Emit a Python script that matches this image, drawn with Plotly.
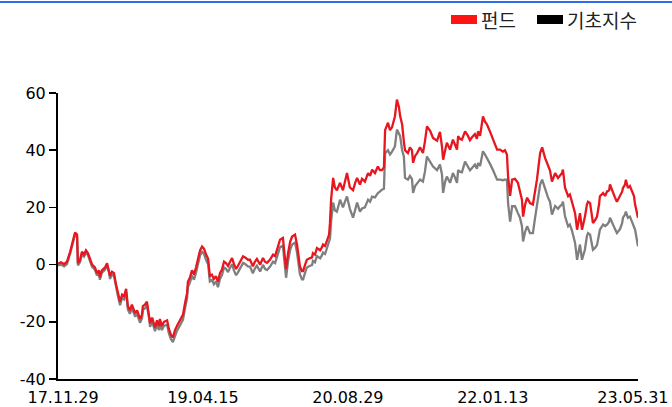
import plotly.graph_objects as go
import pandas as pd

# ---------------- data ----------------
start_date = "2017-11-29"
end_date = "2023-05-31"

# days since start_date for each sampled point
day_offsets = [
    0, 10, 21, 31, 42, 52, 59, 66, 69, 76, 83, 90, 97, 104, 111, 118, 128, 135, 142, 145,
    152, 163, 170, 177, 180, 187, 194, 201, 208, 215, 222, 229, 236, 242, 249, 256, 267, 274, 284, 291,
    294, 301, 308, 315, 319, 326, 329, 336, 343, 350, 353, 360, 367, 378, 384, 391, 398, 405, 412, 423,
    433, 440, 447, 450, 457, 464, 471, 478, 485, 492, 499, 506, 513, 520, 526, 533, 540, 547, 554, 561,
    568, 575, 582, 589, 596, 603, 610, 617, 623, 630, 641, 648, 658, 665, 675, 682, 689, 700, 710, 717,
    724, 734, 745, 752, 759, 769, 779, 786, 790, 797, 804, 811, 821, 828, 831, 838, 845, 849, 856, 862,
    873, 880, 883, 890, 897, 908, 914, 918, 925, 932, 939, 942, 946, 953, 959, 966, 977, 987, 994, 1001,
    1011, 1022, 1029, 1036, 1046, 1053, 1063, 1074, 1081, 1088, 1098, 1108, 1115, 1122, 1129, 1133, 1143, 1150, 1157, 1167,
    1174, 1181, 1185, 1192, 1198, 1202, 1212, 1219, 1226, 1230, 1237, 1244, 1254, 1264, 1271, 1278, 1289, 1299, 1313, 1323,
    1330, 1334, 1341, 1347, 1358, 1368, 1375, 1382, 1386, 1392, 1399, 1410, 1420, 1427, 1434, 1444, 1451, 1455, 1462, 1469,
    1472, 1479, 1486, 1496, 1507, 1514, 1521, 1531, 1541, 1548, 1555, 1559, 1566, 1573, 1583, 1593, 1600, 1607, 1611, 1618,
    1625, 1635, 1645, 1652, 1659, 1670, 1677, 1687, 1697, 1704, 1711, 1722, 1732, 1739, 1746, 1749, 1756, 1767, 1773, 1780,
    1791, 1798, 1805, 1808, 1815, 1822, 1825, 1832, 1836, 1843, 1850, 1853, 1860, 1867, 1874, 1877, 1888, 1895, 1902, 1909,
    1912, 1919, 1922, 1929, 1936, 1947, 1954, 1957, 1964, 1967, 1974, 1981, 1988, 1995, 1999, 2009,
]

# 펀드 (fund) cumulative return, %
fund = [
    0.3, 0.8, 0.2, 1.0, 4.5, 8.5, 11.2, 10.5, 0.5, 1.5, 4.5, 3.5, 5.0, 4.0, 2.0, 0.0, -1.0, -3.0, -2.0, -4.5,
    -2.0, -1.0, 0.5, -2.0, -4.0, -2.5, -3.0, -7.0, -10.0, -13.0, -10.5, -11.0, -8.5, -14.5, -16.0, -14.0, -17.0, -16.0, -19.0, -17.5,
    -14.5, -14.0, -13.0, -17.0, -20.5, -18.5, -19.5, -22.0, -19.5, -21.5, -19.0, -21.5, -20.0, -19.5, -22.5, -24.5, -25.5, -23.0, -21.5, -19.5,
    -17.5, -13.5, -10.0, -6.0, -4.5, -2.0, -3.5, -1.0, 2.0, 5.0, 6.3, 5.5, 3.5, 2.0, -4.0, -3.5, -5.0, -4.0, -6.0, -3.0,
    -1.7, 1.0, 0.5, -0.5, 1.0, 2.3, 0.0, -1.5, -0.5, 1.0, 2.9, 2.5, 1.7, 1.7, -0.6, 1.0, 2.0, 0.0, 2.3, 1.0,
    0.6, 1.7, 3.5, 3.0, 5.2, 8.7, 9.3, 1.7, -1.6, 4.0, 8.0, 9.8, 10.5, 7.0, 4.6, -0.6, -2.3, -2.3, 0.0, 1.7,
    2.3, 2.5, 4.0, 3.5, 5.8, 5.0, 6.0, 7.0, 6.5, 8.7, 10.5, 14.5, 22.7, 30.3, 27.0, 26.0, 28.6, 26.0, 29.0, 32.0,
    27.0, 26.0, 28.5, 30.3, 28.0, 30.0, 29.0, 32.0, 31.0, 33.2, 32.0, 34.3, 33.0, 33.0, 34.0, 47.0, 49.6, 47.0, 48.0, 51.8,
    57.7, 55.0, 52.0, 49.0, 43.0, 40.0, 39.0, 41.0, 40.0, 35.6, 38.0, 39.0, 41.0, 39.0, 43.0, 48.3, 46.8, 44.3, 43.3, 46.4,
    41.3, 36.7, 40.0, 42.6, 40.2, 43.7, 42.0, 40.2, 44.9, 44.0, 43.7, 46.6, 45.0, 43.5, 44.5, 45.6, 44.0, 46.6, 45.0, 49.0,
    51.8, 50.0, 49.0, 46.6, 43.7, 42.0, 40.2, 40.2, 39.5, 40.0, 38.5, 30.8, 24.0, 29.7, 30.0, 28.6, 26.0, 22.7, 16.8, 21.0,
    23.4, 21.5, 21.0, 25.5, 29.7, 39.0, 41.0, 37.3, 34.3, 33.0, 29.0, 32.0, 30.3, 31.0, 32.0, 33.2, 27.0, 23.9, 24.5, 22.0,
    18.0, 12.2, 17.0, 18.0, 12.2, 15.0, 16.6, 21.0, 22.0, 21.5, 16.0, 14.5, 15.5, 16.8, 21.0, 23.9, 25.0, 24.0, 25.6, 26.0,
    28.0, 26.0, 25.0, 23.5, 22.0, 23.9, 25.5, 26.8, 28.0, 29.7, 26.8, 27.5, 25.6, 24.0, 21.0, 16.4,
]

# 기초지수 (benchmark index) cumulative return, %
benchmark = [
    -0.3, 0.0, -0.6, 0.2, 3.8, 7.8, 10.5, 9.8, -0.3, 0.8, 3.7, 2.8, 4.2, 3.2, 1.2, -0.8, -1.8, -3.8, -2.8, -5.3,
    -2.8, -1.8, -0.3, -2.8, -5.0, -3.5, -4.0, -8.0, -11.2, -14.2, -11.7, -12.2, -9.7, -15.7, -17.2, -15.2, -18.2, -17.3, -20.3, -18.8,
    -15.8, -15.3, -14.3, -18.3, -21.8, -19.8, -20.8, -23.3, -20.8, -22.9, -20.4, -22.9, -21.4, -21.0, -24.0, -26.0, -27.1, -24.7, -23.2, -21.2,
    -19.2, -15.2, -11.8, -7.8, -6.3, -3.8, -5.3, -2.8, 0.2, 3.2, 4.5, 3.7, 1.6, 0.1, -5.9, -5.4, -6.9, -5.9, -7.9, -5.0,
    -3.7, -1.0, -1.5, -2.6, -1.1, 0.1, -2.2, -3.7, -2.8, -1.3, 0.6, 0.2, -0.6, -0.7, -3.0, -1.4, -0.4, -2.4, -0.1, -1.5,
    -1.9, -0.8, 1.0, 0.5, 2.6, 6.1, 6.6, -1.2, -4.6, 1.2, 5.2, 7.0, 7.7, 4.2, 1.8, -3.4, -5.2, -5.2, -2.8, -1.0,
    -0.4, -0.2, 1.3, 0.8, 3.0, 2.2, 3.2, 4.2, 3.7, 5.9, 7.6, 9.0, 15.0, 21.7, 19.0, 18.5, 22.7, 20.0, 22.0, 23.8,
    19.5, 16.4, 19.0, 21.7, 18.5, 19.6, 20.0, 22.7, 22.0, 23.8, 23.5, 25.0, 25.5, 26.2, 26.5, 39.0, 40.0, 38.5, 39.5, 41.3,
    47.2, 45.5, 45.0, 40.0, 37.8, 30.3, 29.7, 31.0, 30.0, 25.1, 27.5, 28.4, 29.7, 29.0, 32.5, 37.8, 36.0, 34.3, 33.0, 35.0,
    31.5, 25.1, 29.0, 30.8, 28.6, 32.0, 30.5, 28.6, 33.0, 32.5, 32.3, 36.0, 34.2, 33.0, 33.8, 35.0, 33.5, 35.5, 34.5, 37.5,
    39.6, 38.5, 37.3, 35.3, 33.0, 31.5, 29.7, 29.7, 29.5, 29.7, 29.7, 21.6, 15.0, 20.4, 20.4, 18.0, 16.5, 13.4, 8.1, 11.5,
    13.4, 11.0, 11.0, 16.0, 20.4, 28.0, 29.7, 26.4, 23.5, 22.0, 17.5, 20.5, 19.5, 20.5, 21.0, 22.0, 17.0, 13.4, 14.0, 12.0,
    7.6, 1.7, 6.5, 7.0, 1.7, 4.5, 5.2, 10.0, 11.0, 10.5, 5.5, 5.2, 5.8, 6.8, 10.5, 12.2, 14.0, 13.5, 14.0, 15.0,
    16.4, 15.0, 14.0, 12.5, 11.0, 12.5, 14.5, 16.4, 17.5, 18.5, 16.4, 16.8, 15.0, 13.5, 12.2, 6.4,
]

tick_dates = ["2017-11-29", "2019-04-15", "2020-08-29", "2022-01-13", "2023-05-31"]
tick_labels = ["17.11.29", "19.04.15", "20.08.29", "22.01.13", "23.05.31"]
y_ticks = [-40, -20, 0, 20, 40, 60]
y_tick_labels = ["-40", "-20", "0", "20", "40", "60"]
series_names = ["펀드", "기초지수"]

# ---------------- styling / layout ----------------
W, H = 672, 407
ML, MR, MT, MB = 58, 34, 93, 28
PW, PH = W - ML - MR, H - MT - MB

FUND_COLOR = "#e8161f"
BENCH_COLOR = "#7f7f7f"
TXT = "DejaVu Sans"
KR = "Noto Sans CJK KR"

# edge labels nudged inward (as in the reference) with non-breaking spaces
PAD = "\u00a0\u00a0"
shown_tick_labels = [PAD + tick_labels[0]] + tick_labels[1:-1] + [tick_labels[-1] + PAD]


def px_x(px):
    return (px - ML) / PW


def px_y(py):
    return (H - MB - py) / PH


dates = pd.Timestamp(start_date) + pd.to_timedelta(day_offsets, unit="D")

fig = go.Figure()
fig.add_trace(go.Scatter(x=dates, y=benchmark, mode="lines", name=series_names[1],
                         line=dict(color=BENCH_COLOR, width=2.3), showlegend=False,
                         hoverinfo="skip"))
fig.add_trace(go.Scatter(x=dates, y=fund, mode="lines", name=series_names[0],
                         line=dict(color=FUND_COLOR, width=2.3), showlegend=False,
                         hoverinfo="skip"))

shapes = [
    # top blue rule
    dict(type="line", xref="paper", yref="paper", x0=px_x(0), x1=px_x(W), y0=px_y(2), y1=px_y(2),
         line=dict(color="#2f6af5", width=2)),
    # legend swatches
    dict(type="rect", xref="paper", yref="paper", x0=px_x(451), x1=px_x(477), y0=px_y(24), y1=px_y(15),
         fillcolor="#ff1414", line=dict(width=0)),
    dict(type="rect", xref="paper", yref="paper", x0=px_x(537), x1=px_x(563), y0=px_y(24), y1=px_y(15),
         fillcolor="#000000", line=dict(width=0)),
]
annotations = [
    dict(text=series_names[0], xref="paper", yref="paper", x=px_x(479), y=px_y(19.5),
         xanchor="left", yanchor="middle", showarrow=False,
         font=dict(family=KR, size=19, color="#222222")),
    dict(text=series_names[1], xref="paper", yref="paper", x=px_x(565), y=px_y(19.5),
         xanchor="left", yanchor="middle", showarrow=False,
         font=dict(family=KR, size=19, color="#222222")),
]

fig.update_layout(
    width=W, height=H,
    margin=dict(l=ML, r=MR, t=MT, b=MB, pad=0, autoexpand=False),
    paper_bgcolor="white", plot_bgcolor="white",
    showlegend=False,
    shapes=shapes, annotations=annotations,
    font=dict(family=TXT, size=16, color="#000000"),
)
fig.update_xaxes(
    type="date", range=[start_date, end_date],
    tickmode="array", tickvals=tick_dates, ticktext=shown_tick_labels,
    showline=True, linecolor="#000000", linewidth=2,
    ticks="outside", ticklen=3, tickcolor="rgba(0,0,0,0)",
    showgrid=False, zeroline=False, automargin=False,
    ticklabeloverflow="allow",
    tickfont=dict(family=TXT, size=16, color="#000000"),
)
fig.update_yaxes(
    range=[-40, 60], tickmode="array", tickvals=y_ticks, ticktext=y_tick_labels,
    showline=True, linecolor="#000000", linewidth=2,
    ticks="outside", ticklen=7, tickwidth=1.5, tickcolor="#000000",
    showgrid=False, zeroline=False, automargin=False,
    tickfont=dict(family=TXT, size=16, color="#000000"),
)

fig.write_html(
    "out.html",
    config={"displayModeBar": False, "staticPlot": True},
    post_script="document.body.style.margin='0px';document.body.style.overflow='hidden';",
)
